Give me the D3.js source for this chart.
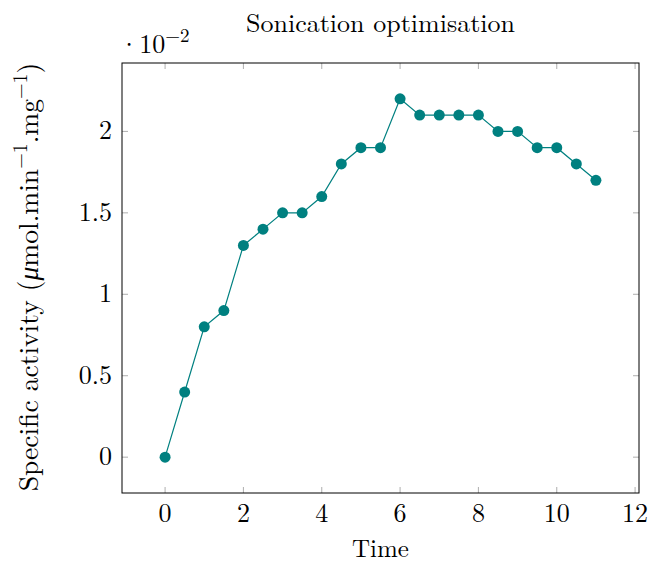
<!DOCTYPE html>
<html>
<head>
<meta charset="utf-8">
<script src="https://cdn.jsdelivr.net/npm/d3@7"></script>
<style>
	body { margin: 0; background: #fff; }
	text { font-family: "Latin Modern Roman", "Liberation Serif", "DejaVu Serif", serif; fill: #000; }
</style>
</head>
<body>
<div id="chart"></div>
<script>
const time = [0, 0.5, 1, 1.5, 2, 2.5, 3, 3.5, 4, 4.5, 5, 5.5, 6, 6.5, 7, 7.5, 8, 8.5, 9, 9.5, 10, 10.5, 11];
const activity = [0, 0.004, 0.008, 0.009, 0.013, 0.014, 0.015, 0.015, 0.016, 0.018, 0.019, 0.019,
	0.022, 0.021, 0.021, 0.021, 0.021, 0.020, 0.020, 0.019, 0.019, 0.018, 0.017];
const xTicks = [0, 2, 4, 6, 8, 10, 12];
const yTicks = [0, 0.005, 0.01, 0.015, 0.02];

const W = 649, H = 563;
const m = { left: 122, right: 10, top: 63, bottom: 70 };
const fs = 26, fsSup = 19;

const svg = d3.select("#chart").append("svg")
	.attr("width", W)
	.attr("height", H);

const x = d3.scaleLinear().domain([-1.1, 12.1]).range([m.left, W - m.right]);
const y = d3.scaleLinear().domain([-0.0022, 0.0242]).range([H - m.bottom, m.top]);

const x0 = x.range()[0], x1 = x.range()[1];
const y0 = y.range()[0], y1 = y.range()[1];
const tick = 6;

const grid = svg.append("g").attr("stroke", "#999").attr("stroke-width", 0.8);

// ticks pointing inward, mirrored on opposite side
xTicks.forEach(t => {
	const px = x(t);
	grid.append("line").attr("x1", px).attr("x2", px).attr("y1", y0).attr("y2", y0 - tick);
	grid.append("line").attr("x1", px).attr("x2", px).attr("y1", y1).attr("y2", y1 + tick);
});
yTicks.forEach(t => {
	const py = y(t);
	grid.append("line").attr("x1", x0).attr("x2", x0 + tick).attr("y1", py).attr("y2", py);
	grid.append("line").attr("x1", x1).attr("x2", x1 - tick).attr("y1", py).attr("y2", py);
});

svg.append("rect")
	.attr("x", x0).attr("y", y1)
	.attr("width", x1 - x0).attr("height", y0 - y1)
	.attr("fill", "none").attr("stroke", "#000").attr("stroke-width", 1);

svg.append("g").selectAll("text")
	.data(xTicks).enter().append("text")
	.attr("x", d => x(d)).attr("y", y0 + 29)
	.attr("text-anchor", "middle")
	.attr("font-size", fs)
	.text(d => d);

svg.append("g").selectAll("text")
	.data(yTicks).enter().append("text")
	.attr("x", x0 - 10).attr("y", d => y(d) + 8)
	.attr("text-anchor", "end")
	.attr("font-size", fs)
	.text(d => d3.format("~g")(d * 100));

// axis scale factor
const sf = svg.append("text").attr("x", x0 - 3).attr("y", 53).attr("font-size", fs);
sf.append("tspan").text("·10");
sf.append("tspan").attr("dy", -11).attr("font-size", fsSup).text("−2");

svg.append("text")
	.attr("x", (x0 + x1) / 2).attr("y", 32)
	.attr("text-anchor", "middle").attr("font-size", fs)
	.text("Sonication optimisation");

svg.append("text")
	.attr("x", (x0 + x1) / 2).attr("y", 557)
	.attr("text-anchor", "middle").attr("font-size", 25)
	.text("Time");

const yl = svg.append("text")
	.attr("transform", `translate(38,${(y0 + y1) / 2 - 1}) rotate(-90)`)
	.attr("text-anchor", "middle").attr("font-size", 27.5);
yl.append("tspan").text("Specific activity (");
yl.append("tspan").attr("font-style", "italic").text("μ");
yl.append("tspan").text("mol.min");
yl.append("tspan").attr("dy", -11).attr("font-size", 20).text("−1");
yl.append("tspan").attr("dy", 11).text(".mg");
yl.append("tspan").attr("dy", -11).attr("font-size", 20).text("−1");
yl.append("tspan").attr("dy", 11).text(")");

const pts = time.map((t, i) => [t, activity[i]]);

svg.append("path")
	.datum(pts)
	.attr("fill", "none")
	.attr("stroke", "#008080")
	.attr("stroke-width", 1.2)
	.attr("d", d3.line().x(d => x(d[0])).y(d => y(d[1])));

svg.append("g").selectAll("circle")
	.data(pts).enter().append("circle")
	.attr("cx", d => x(d[0])).attr("cy", d => y(d[1]))
	.attr("r", 5.5)
	.attr("fill", "#008080");
</script>
</body>
</html>
